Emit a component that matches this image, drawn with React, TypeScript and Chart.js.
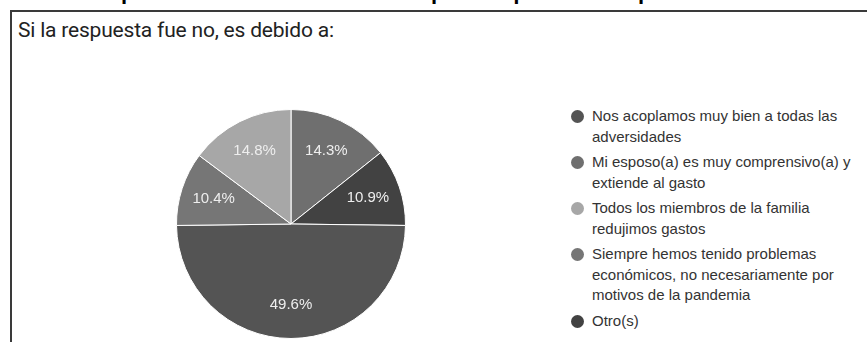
import React, { useEffect, useRef } from "react";
import { Chart, registerables } from "chart.js";

Chart.register(...registerables);

// ---- data ----
const title = "Si la respuesta fue no, es debido a:";
const categories = [
  "Nos acoplamos muy bien a todas las\nadversidades",
  "Mi esposo(a) es muy comprensivo(a) y\nextiende al gasto",
  "Todos los miembros de la familia\nredujimos gastos",
  "Siempre hemos tenido problemas\neconómicos, no necesariamente por\nmotivos de la pandemia",
  "Otro(s)",
];
const percentages = [49.6, 14.3, 14.8, 10.4, 10.9];
const colors = ["#545454", "#6f6f6f", "#a7a7a7", "#767676", "#424242"];
// clockwise order of slices starting from 12 o'clock (indices into categories)
const sliceOrder = [1, 4, 0, 3, 2];
// clipped descenders of the heading above the box
const clippedHeadingGlyphs = ["p", "p", "q", "p"];
const clippedHeadingX = [121, 431, 506, 638];

const pieLabelPlugin = {
  id: "pieLabels",
  afterDatasetsDraw(chart: any) {
    const ctx = chart.ctx;
    const meta = chart.getDatasetMeta(0);
    const data = chart.data.datasets[0].data as number[];
    const total = data.reduce((a: number, b: number) => a + b, 0);
    ctx.save();
    ctx.font = "15px Arial, 'Liberation Sans', sans-serif";
    ctx.fillStyle = "#eeeeee";
    ctx.textAlign = "center";
    ctx.textBaseline = "middle";
    meta.data.forEach((arc: any, i: number) => {
      const p = arc.getProps(["x", "y", "startAngle", "endAngle", "outerRadius"], true);
      const mid = (p.startAngle + p.endAngle) / 2;
      const r = p.outerRadius * 0.71;
      const txt = ((data[i] / total) * 100).toFixed(1) + "%";
      ctx.fillText(txt, p.x + Math.cos(mid) * r, p.y + Math.sin(mid) * r);
    });
    ctx.restore();
  },
};

function PieChart() {
  const ref = useRef<HTMLCanvasElement | null>(null);
  useEffect(() => {
    if (!ref.current) return;
    const chart = new Chart(ref.current, {
      type: "pie",
      data: {
        labels: sliceOrder.map((i) => categories[i]),
        datasets: [
          {
            data: sliceOrder.map((i) => percentages[i]),
            backgroundColor: sliceOrder.map((i) => colors[i]),
            borderColor: "#ffffff",
            borderWidth: 1,
          },
        ],
      },
      options: {
        responsive: false,
        maintainAspectRatio: false,
        animation: false,
        layout: { padding: 0 },
        plugins: {
          legend: { display: false },
          tooltip: { enabled: false },
        },
      },
      plugins: [pieLabelPlugin],
    });
    return () => chart.destroy();
  }, []);
  return (
    <canvas
      ref={ref}
      width={230}
      height={230}
      style={{ position: "absolute", left: 176, top: 109, width: 230, height: 230 }}
    />
  );
}

export default function App() {
  return (
    <div
      style={{
        position: "fixed",
        left: 0,
        top: 0,
        width: 867,
        height: 342,
        background: "#ffffff",
        overflow: "hidden",
        fontFamily: "Arial, 'Liberation Sans', sans-serif",
      }}
    >
      <div style={{ position: "absolute", left: 0, top: 0, width: 867, height: 4, overflow: "hidden" }}>
        {clippedHeadingGlyphs.map((g, i) => (
          <span
            key={i}
            style={{
              position: "absolute",
              left: clippedHeadingX[i],
              top: -19,
              font: "bold 22px Arial, 'Liberation Sans', sans-serif",
              lineHeight: "22px",
              color: "#000",
            }}
          >
            {g}
          </span>
        ))}
      </div>
      <div
        style={{
          position: "absolute",
          left: 10,
          top: 10,
          width: 900,
          height: 400,
          borderTop: "2px solid #3a3a3a",
          borderLeft: "2px solid #3a3a3a",
        }}
      />
      <div
        style={{
          position: "absolute",
          left: 18,
          top: 18,
          font: "21px Roboto, sans-serif",
          letterSpacing: "-0.2px",
          color: "#222",
          whiteSpace: "nowrap",
        }}
      >
        {title}
      </div>
      <PieChart />
      <div style={{ position: "absolute", left: 570, top: 106 }}>
        {categories.map((c, i) => (
          <div key={i} style={{ position: "relative", paddingLeft: 22, marginBottom: 5 }}>
            <span
              style={{
                position: "absolute",
                left: 1,
                top: 4,
                width: 13,
                height: 13,
                borderRadius: "50%",
                background: colors[i],
              }}
            />
            <div
              style={{
                fontSize: 15,
                lineHeight: "20.5px",
                color: "#333",
                whiteSpace: "pre",
              }}
            >
              {c}
            </div>
          </div>
        ))}
      </div>
    </div>
  );
}
